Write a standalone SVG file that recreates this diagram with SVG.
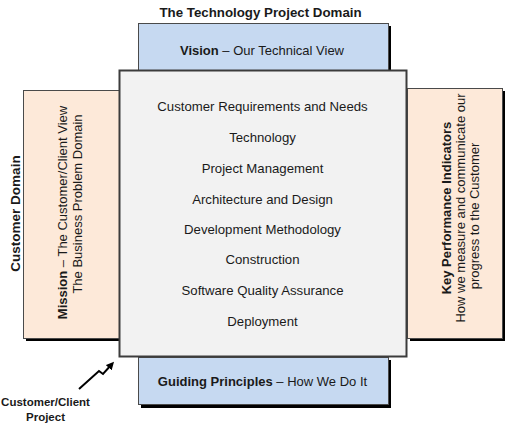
<svg xmlns="http://www.w3.org/2000/svg" width="507" height="426" viewBox="0 0 507 426">
  <style>
    text { font-family: "Liberation Sans", Arial, sans-serif; fill: #1a1a1a; }
    .b { font-weight: bold; }
    .item { font-size: 13.2px; text-anchor: middle; }
    .lbl { font-size: 13px; }
    .shadow { fill: #000; }
    .blue { fill: #c6d9f1; stroke: #4a4a4a; stroke-width: 1; }
    .peach { fill: #fde9d9; stroke: #4a4a4a; stroke-width: 1; }
    .core { fill: #f2f2f2; stroke: #3c3c3c; stroke-width: 2; }
    .conn { fill: none; stroke: #000; stroke-width: 2; }
  </style>
  <defs>
    <marker id="ah" markerWidth="8" markerHeight="8" refX="5" refY="4" orient="auto" markerUnits="userSpaceOnUse">
      <path d="M0,0 L8,4 L0,8 Z" fill="#000"/>
    </marker>
  </defs>

  <text id="title" class="b" x="260.5" y="17" font-size="13.3px" text-anchor="middle">The Technology Project Domain</text>
  <text id="customer-domain" class="b" font-size="13.5px" text-anchor="middle" transform="translate(20,213.5) rotate(-90)">Customer Domain</text>

  <g id="mission">
    <rect class="shadow" x="26" y="93" width="96" height="248"/>
    <rect class="peach" x="23.5" y="90.5" width="96" height="248"/>
    <text class="lbl" text-anchor="middle" transform="translate(66.5,212.5) rotate(-90)"><tspan class="b">Mission</tspan> – The Customer/Client View</text>
    <text class="lbl" text-anchor="middle" transform="translate(81.5,204) rotate(-90)">The Business Problem Domain</text>
  </g>

  <g id="kpi">
    <rect class="shadow" x="410" y="91" width="95" height="250"/>
    <rect class="peach" x="407.5" y="88.5" width="95" height="250"/>
    <text class="lbl b" text-anchor="middle" transform="translate(451,208) rotate(-90)">Key Performance Indicators</text>
    <text class="lbl" text-anchor="middle" transform="translate(464.5,208) rotate(-90)">How we measure and communicate our</text>
    <text class="lbl" text-anchor="middle" transform="translate(479,216) rotate(-90)">progress to the Customer</text>
  </g>

  <g id="vision">
    <rect class="shadow" x="141" y="26" width="250" height="47"/>
    <rect class="blue" x="138.5" y="23.5" width="250" height="47"/>
    <text class="lbl" x="262" y="54.5" text-anchor="middle"><tspan class="b">Vision</tspan> – Our Technical View</text>
  </g>

  <g id="guiding-principles">
    <rect class="shadow" x="141" y="360" width="250" height="48"/>
    <rect class="blue" x="138.5" y="357.5" width="250" height="47"/>
    <text class="lbl" x="262.5" y="385.5" text-anchor="middle"><tspan class="b">Guiding Principles</tspan> – How We Do It</text>
  </g>

  <g id="core">
    <rect class="core" x="119.5" y="70.5" width="287" height="286"/>
    <text class="item" x="262.5" y="110.5">Customer Requirements and Needs</text>
    <text class="item" x="262.5" y="141.5">Technology</text>
    <text class="item" x="262.5" y="172.5">Project Management</text>
    <text class="item" x="262.5" y="203.5">Architecture and Design</text>
    <text class="item" x="262.5" y="233.5">Development Methodology</text>
    <text class="item" x="262.5" y="263.5">Construction</text>
    <text class="item" x="262.5" y="294.5">Software Quality Assurance</text>
    <text class="item" x="262.5" y="325.5">Deployment</text>
  </g>

  <g id="customer-client-project">
    <text class="b" x="45.5" y="406" font-size="11.5px" text-anchor="middle">Customer/Client</text>
    <text class="b" x="45.5" y="421" font-size="11.5px" text-anchor="middle">Project</text>
  </g>

  <g id="connectors">
    <polyline class="conn" points="79,389 99,371 103,374 112,364" marker-end="url(#ah)"/>
  </g>
</svg>
